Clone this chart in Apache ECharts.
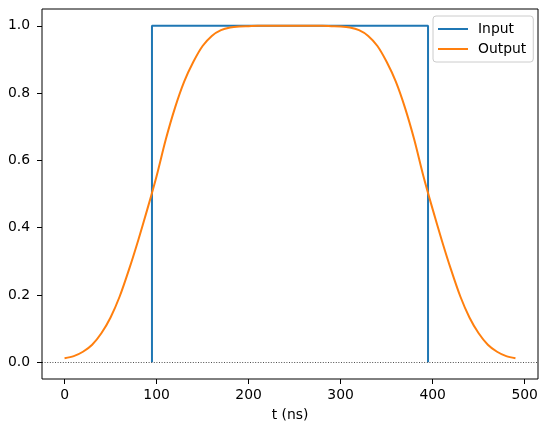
<!DOCTYPE html>
<html>
<head>
<meta charset="utf-8">
<script src="https://cdn.jsdelivr.net/npm/echarts@6/dist/echarts.min.js"></script>
<style>
html,body{margin:0;padding:0;background:#fff;}
#chart{width:547px;height:432px;}
</style>
</head>
<body>
<div id="chart"></div>
<script>
// ---- data ----
var inputT = [95, 95, 395, 395];
var inputV = [0, 1, 1, 0];
var outputT = [0,10,20,30,40,50,60,70,80,90,100,110,120,130,140,150,160,170,180,190,200,210,220,230,240,
               250,260,270,280,290,300,310,320,330,340,350,360,370,380,390,400,410,420,430,440,450,460,470,480,490];
var outputV = [0.012,0.018,0.031,0.052,0.086,0.133,0.196,0.275,0.362,0.455,0.553,0.662,0.756,0.834,0.893,0.940,0.970,0.987,0.995,0.998,0.999,1.0,1.0,1.0,1.0,
               1.0,1.0,1.0,1.0,0.999,0.998,0.995,0.987,0.970,0.940,0.893,0.834,0.756,0.662,0.553,0.455,0.362,0.275,0.196,0.133,0.086,0.052,0.031,0.018,0.012];
var xTicks = [0, 100, 200, 300, 400, 500];
var yTicks = [0, 0.2, 0.4, 0.6, 0.8, 1.0];
var seriesNames = ['Input', 'Output'];
var xLabel = 't (ns)';

function zip(a, b) { return a.map(function (v, i) { return [v, b[i]]; }); }

var font = 'DejaVu Sans';
var chart = echarts.init(document.getElementById('chart'), null, {renderer: 'canvas'});
chart.setOption({
  animation: false,
  backgroundColor: '#fff',
  grid: {left: 42, right: 9, top: 9, bottom: 53, show: true, borderColor: '#000', borderWidth: 1, backgroundColor: 'transparent'},
  legend: {
    orient: 'vertical', left: 433, top: 16,
    padding: [6, 7, 6, 4], itemGap: 6, itemWidth: 30, itemHeight: 14,
    backgroundColor: 'rgba(255,255,255,0.8)', borderColor: '#cccccc', borderWidth: 1, borderRadius: 3,
    textStyle: {fontFamily: font, fontSize: 13.9, color: '#000', padding: [0, 0, 0, 5]},
    itemStyle: {opacity: 0},
    data: seriesNames
  },
  xAxis: {
    type: 'value', min: -24.5, max: 514.5,
    name: xLabel, nameLocation: 'middle', nameGap: 29,
    nameTextStyle: {fontFamily: font, fontSize: 13.9, color: '#000'},
    axisLine: {show: false, onZero: false},
    axisTick: {show: true, length: 5, lineStyle: {color: '#000', width: 1}, customValues: xTicks},
    axisLabel: {fontFamily: font, fontSize: 13.9, color: '#000', margin: 9, customValues: xTicks},
    splitLine: {show: false}
  },
  yAxis: {
    type: 'value', min: -0.05, max: 1.05,
    axisLine: {show: false, onZero: false},
    axisTick: {show: true, length: 5, lineStyle: {color: '#000', width: 1}, customValues: yTicks},
    axisLabel: {fontFamily: font, fontSize: 13.9, color: '#000', margin: 12, customValues: yTicks,
      formatter: function (v) { return v.toFixed(1); }},
    splitLine: {show: false}
  },
  series: [
    {
      name: seriesNames[0], type: 'line', data: zip(inputT, inputV),
      showSymbol: false, symbol: 'none',
      lineStyle: {color: '#1f77b4', width: 2}, itemStyle: {color: '#1f77b4'}, z: 3,
      markLine: {
        silent: true, symbol: 'none', animation: false,
        label: {show: false},
        lineStyle: {color: '#000', type: [1, 1.6], width: 0.7},
        data: [{yAxis: 0}]
      }
    },
    {
      name: seriesNames[1], type: 'line', data: zip(outputT, outputV),
      showSymbol: false, symbol: 'none', smooth: 0.3,
      lineStyle: {color: '#ff7f0e', width: 2}, itemStyle: {color: '#ff7f0e'}, z: 4
    }
  ]
});
</script>
</body>
</html>
